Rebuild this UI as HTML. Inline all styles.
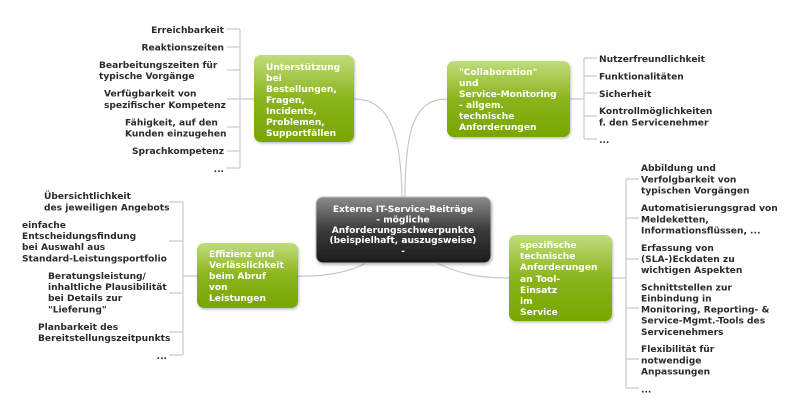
<!DOCTYPE html>
<html><head><meta charset="utf-8">
<style>
html,body{margin:0;padding:0;background:#fff;}
svg{display:block;}
text{font-family:"DejaVu Sans","Liberation Sans",sans-serif;font-weight:bold;font-size:9.1px;}
.d{fill:#2a2a2a;}
.w{fill:#fff;}
.ln{stroke:#c9c9c9;stroke-width:1.2;fill:none;}
</style></head>
<body>
<svg width="800" height="418" viewBox="0 0 800 418" xmlns="http://www.w3.org/2000/svg">
<defs>
<linearGradient id="g" x1="0" y1="0" x2="0" y2="1">
<stop offset="0" stop-color="#c0dc7c"/>
<stop offset="0.5" stop-color="#8ab41c"/>
<stop offset="1" stop-color="#78a500"/>
</linearGradient>
<linearGradient id="k" x1="0" y1="0" x2="0" y2="1">
<stop offset="0" stop-color="#8c8c8c"/>
<stop offset="0.5" stop-color="#3a3a3a"/>
<stop offset="1" stop-color="#1c1c1c"/>
</linearGradient>
<filter id="s" x="-10%" y="-10%" width="130%" height="130%">
<feDropShadow dx="1" dy="1.5" stdDeviation="1.2" flood-color="#000" flood-opacity="0.25"/>
</filter>
</defs>

<!-- curves to center -->
<path class="ln" d="M354,99 C388,99 401,130 402,197"/>
<path class="ln" d="M447,99 C414,99 405,130 405,197"/>
<path class="ln" d="M298,276 C330,277 355,270 367,262"/>
<path class="ln" d="M437,263 C460,274 478,278 509,278"/>

<!-- list 1 bracket -->
<path class="ln" d="M240,29 V168 M227,29 H240 M227,47 H240 M227,70 H240 M227,99 H254 M227,127 H240 M227,151 H240 M227,168 H240"/>
<!-- list 2 bracket -->
<path class="ln" d="M570,99 H584 M584,58 V139 M584,58 H597 M584,76 H597 M584,93 H597 M584,116 H597 M584,139 H597"/>
<!-- list 3 bracket -->
<path class="ln" d="M197,276 H183 M183,202 V355 M169,202 H183 M169,241 H183 M169,293 H183 M169,332 H183 M169,355 H183"/>
<!-- list 4 bracket -->
<path class="ln" d="M612,278 H626 M626,179 V388 M626,179 H639 M626,218 H639 M626,259 H639 M626,308 H639 M626,359 H639 M626,388 H639"/>

<!-- nodes -->
<rect x="254" y="55" width="100" height="87" rx="7" fill="url(#g)" filter="url(#s)"/>
<rect x="447" y="61" width="123" height="76" rx="7" fill="url(#g)" filter="url(#s)"/>
<rect x="197" y="243" width="101" height="65" rx="7" fill="url(#g)" filter="url(#s)"/>
<rect x="509" y="235" width="103" height="86" rx="7" fill="url(#g)" filter="url(#s)"/>
<rect x="316" y="197" width="175" height="66" rx="7" fill="url(#k)" stroke="#bdbdbd" stroke-width="1" filter="url(#s)"/>

<!-- node texts -->
<g class="w">
<text x="266" y="70">Unterstützung</text>
<text x="266" y="81">bei</text>
<text x="266" y="92">Bestellungen,</text>
<text x="266" y="103">Fragen,</text>
<text x="266" y="114">Incidents,</text>
<text x="266" y="125">Problemen,</text>
<text x="266" y="136">Supportfällen</text>

<text x="459" y="75">"Collaboration"</text>
<text x="459" y="86">und</text>
<text x="459" y="97">Service-Monitoring</text>
<text x="459" y="108">- allgem.</text>
<text x="459" y="119">technische</text>
<text x="459" y="130">Anforderungen</text>

<text x="209" y="257">Effizienz und</text>
<text x="209" y="268">Verlässlichkeit</text>
<text x="209" y="279">beim Abruf</text>
<text x="209" y="290">von</text>
<text x="209" y="301">Leistungen</text>

<text x="520" y="248">spezifische</text>
<text x="520" y="259">technische</text>
<text x="520" y="270">Anforderungen</text>
<text x="520" y="282">an Tool-</text>
<text x="520" y="293">Einsatz</text>
<text x="520" y="304">im</text>
<text x="520" y="315">Service</text>

<g text-anchor="middle">
<text x="403" y="212">Externe IT-Service-Beiträge</text>
<text x="403" y="222.5">- mögliche</text>
<text x="403" y="233">Anforderungsschwerpunkte</text>
<text x="403" y="243">(beispielhaft, auszugsweise)</text>
<text x="403" y="254">-</text>
</g>
</g>

<!-- list 1 -->
<g class="d">
<text x="224" y="33" text-anchor="end">Erreichbarkeit</text>
<text x="224" y="50.5" text-anchor="end">Reaktionszeiten</text>
<text x="99" y="68">Bearbeitungszeiten für</text>
<text x="99" y="79">typische Vorgänge</text>
<text x="104" y="96.5">Verfügbarkeit von</text>
<text x="104" y="108">spezifischer Kompetenz</text>
<text x="125" y="125.5">Fähigkeit, auf den</text>
<text x="125" y="136.5">Kunden einzugehen</text>
<text x="224" y="154" text-anchor="end">Sprachkompetenz</text>
<text x="224" y="172" text-anchor="end">...</text>

<!-- list 2 -->
<text x="599" y="62">Nutzerfreundlichkeit</text>
<text x="599" y="79.5">Funktionalitäten</text>
<text x="599" y="97">Sicherheit</text>
<text x="599" y="114">Kontrollmöglichkeiten</text>
<text x="599" y="125.5">f. den Servicenehmer</text>
<text x="599" y="143">...</text>

<!-- list 3 -->
<text x="44" y="199">Übersichtlichkeit</text>
<text x="44" y="210.5">des jeweiligen Angebots</text>
<text x="22" y="228">einfache</text>
<text x="22" y="239">Entscheidungsfindung</text>
<text x="22" y="250">bei Auswahl aus</text>
<text x="22" y="261.5">Standard-Leistungsportfolio</text>
<text x="48" y="279">Beratungsleistung/</text>
<text x="48" y="290">inhaltliche Plausibilität</text>
<text x="48" y="301">bei Details zur</text>
<text x="48" y="312.5">"Lieferung"</text>
<text x="38" y="330">Planbarkeit des</text>
<text x="38" y="341">Bereitstellungszeitpunkts</text>
<text x="167" y="359" text-anchor="end">...</text>

<!-- list 4 -->
<text x="641" y="171">Abbildung und</text>
<text x="641" y="182.5">Verfolgbarkeit von</text>
<text x="641" y="193.5">typischen Vorgängen</text>
<text x="641" y="211">Automatisierungsgrad von</text>
<text x="641" y="222.5">Meldeketten,</text>
<text x="641" y="233.5">Informationsflüssen, ...</text>
<text x="641" y="251">Erfassung von</text>
<text x="641" y="262">(SLA-)Eckdaten zu</text>
<text x="641" y="273">wichtigen Aspekten</text>
<text x="641" y="290.5">Schnittstellen zur</text>
<text x="641" y="301.5">Einbindung in</text>
<text x="641" y="312.5">Monitoring, Reporting- &amp;</text>
<text x="641" y="323.5">Service-Mgmt.-Tools des</text>
<text x="641" y="335">Servicenehmers</text>
<text x="641" y="352">Flexibilität für</text>
<text x="641" y="363.5">notwendige</text>
<text x="641" y="374.5">Anpassungen</text>
<text x="641" y="392.5">...</text>
</g>
</svg>
</body></html>
